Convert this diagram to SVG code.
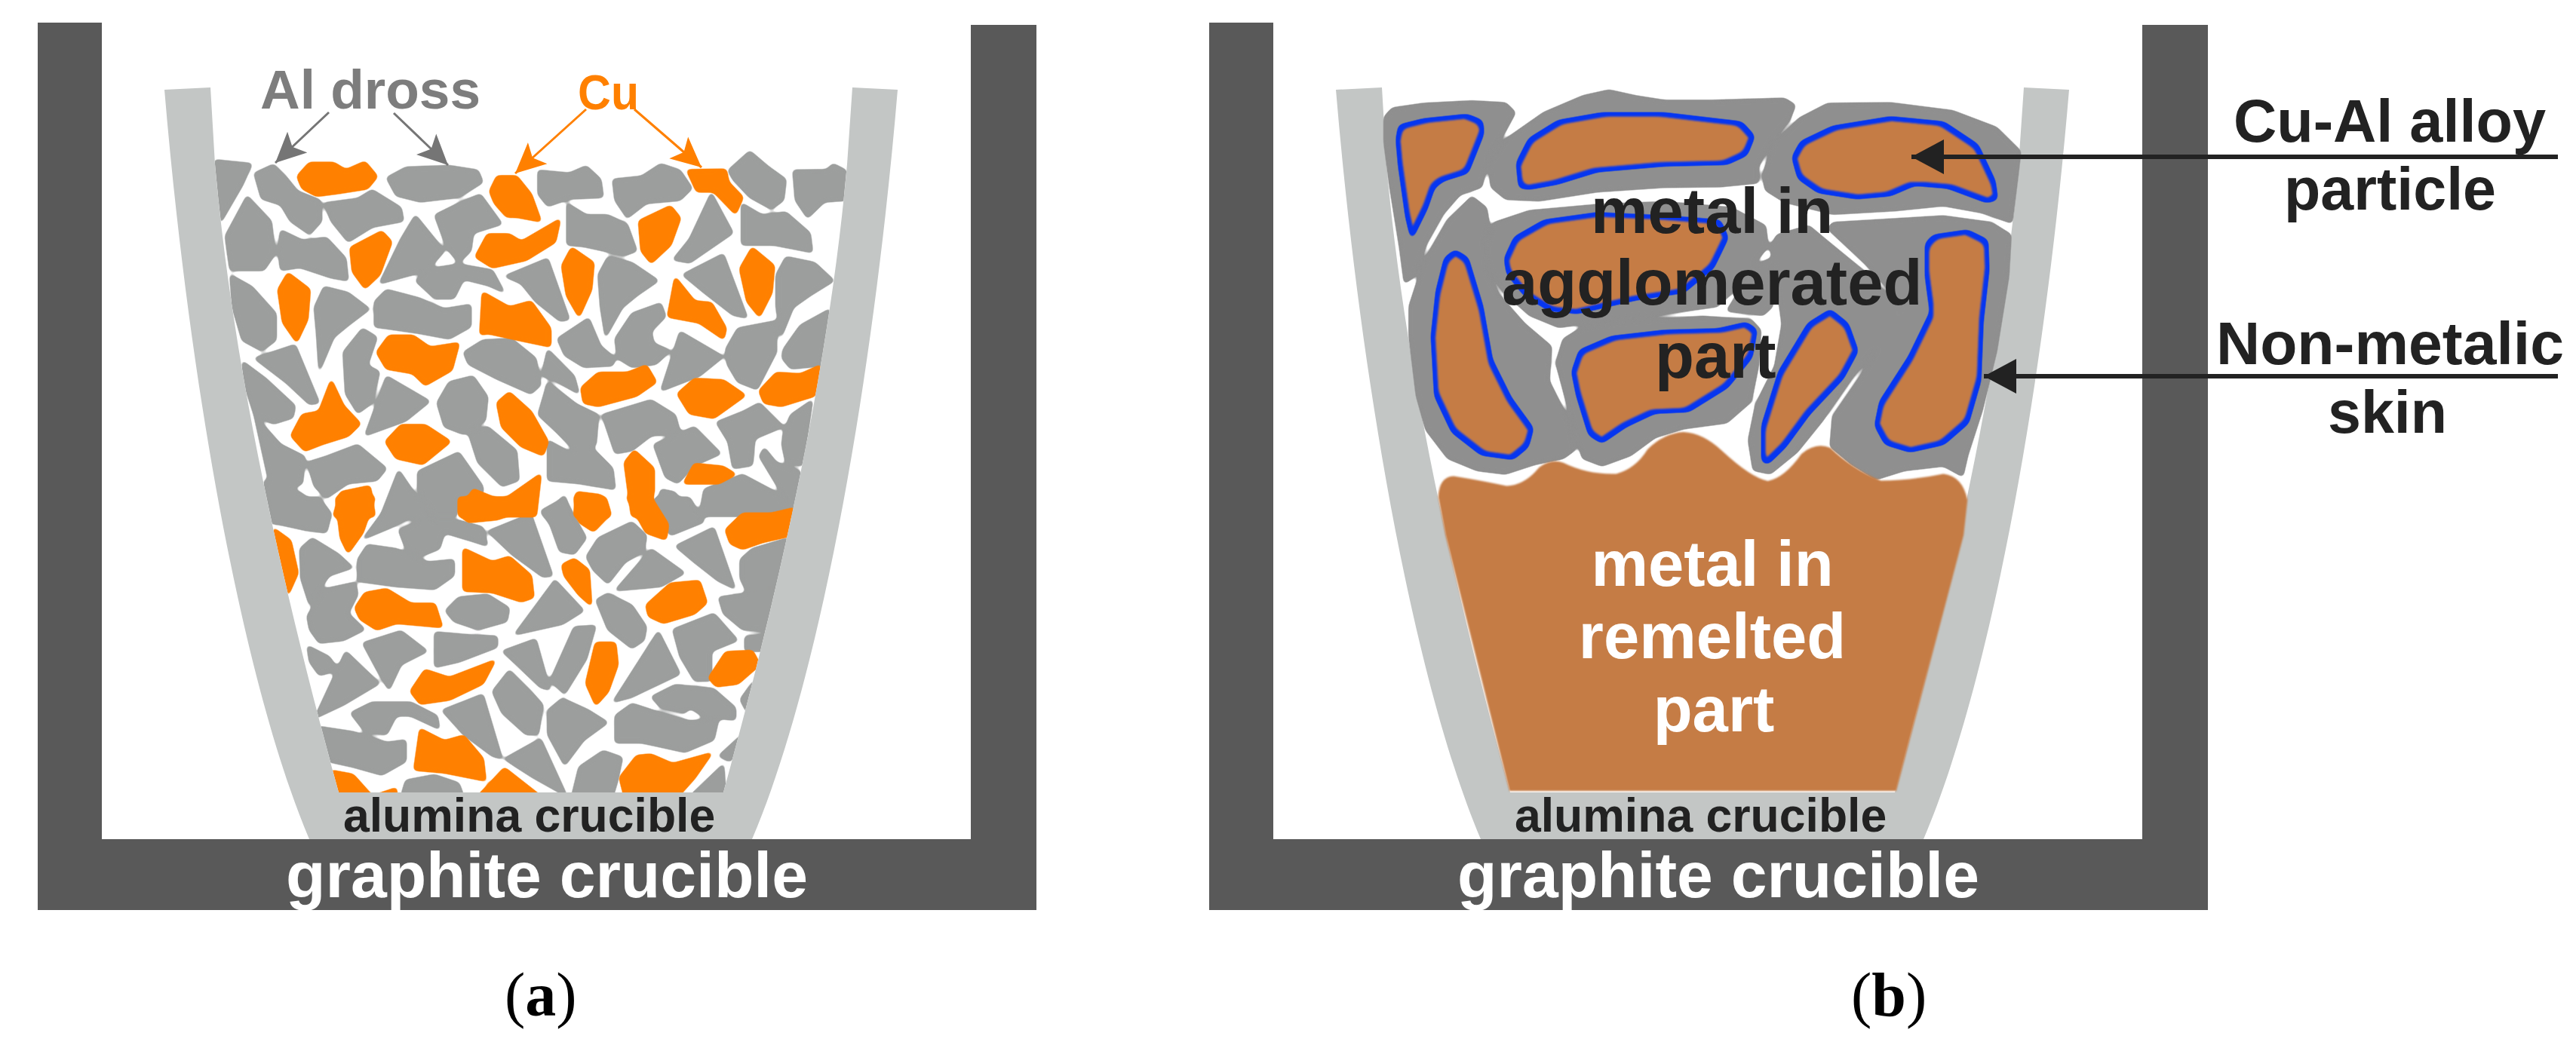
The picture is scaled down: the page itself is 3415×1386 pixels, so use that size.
<svg xmlns="http://www.w3.org/2000/svg" xmlns:xlink="http://www.w3.org/1999/xlink" width="3415" height="1386" viewBox="0 0 3415 1386">
<style>
text{font-family:"Liberation Sans",Arial,sans-serif;font-weight:700}
.cap{font-family:"Liberation Serif","Times New Roman",serif;font-weight:400;font-size:82px;fill:#000}
.cap tspan{font-weight:700}
.graphite{fill:#595959}
.alumina{fill:#c3c6c5}
.g polygon{fill:#9c9e9d;stroke:#9c9e9d;stroke-width:3;stroke-linejoin:round;vector-effect:non-scaling-stroke}
.o polygon{fill:#ff8000;stroke:#ff8000;stroke-width:4;stroke-linejoin:round;vector-effect:non-scaling-stroke}
.skin polygon{fill:#8f8f8f;stroke:#8f8f8f;stroke-width:3;stroke-linejoin:round;vector-effect:non-scaling-stroke}
.metal{fill:#c57c45}
.p{fill:#000;stroke:#000;stroke-width:5;vector-effect:non-scaling-stroke;stroke-linejoin:round}
.dk{fill:#222}
.wh{fill:#fff}
</style>
<defs>
<filter id="goo" x="-3%" y="-3%" width="106%" height="106%" color-interpolation-filters="sRGB"><feGaussianBlur stdDeviation="3.2"/><feComponentTransfer><feFuncA type="linear" slope="6" intercept="-2.6"/></feComponentTransfer></filter>
<filter id="part" x="-3%" y="-3%" width="106%" height="106%" color-interpolation-filters="sRGB">
<feGaussianBlur in="SourceAlpha" stdDeviation="4.5"/>
<feComponentTransfer result="s"><feFuncA type="linear" slope="7" intercept="-3"/></feComponentTransfer>
<feFlood flood-color="#0636f0"/><feComposite in2="s" operator="in" result="bl"/>
<feMorphology in="s" operator="erode" radius="5.5"/>
<feGaussianBlur stdDeviation=".8" result="i"/>
<feFlood flood-color="#c57c45"/><feComposite in2="i" operator="in" result="br"/>
<feMerge><feMergeNode in="bl"/><feMergeNode in="br"/></feMerge>
</filter>
<filter id="soft" x="-3%" y="-3%" width="106%" height="106%"><feGaussianBlur stdDeviation="1"/></filter>
<clipPath id="inner"><path d="M283 150L285 218C310 500 380 800 449 1051L959 1051C1028 800 1098 500 1123 218L1125 150Z"/></clipPath>
<path id="alu" d="M218 119C250 500 320 900 410 1113L997 1113C1088 900 1158 500 1190 119L1130 116L1123 218C1098 500 1028 800 959 1051L449 1051C380 800 310 500 285 218L279 116Z"/>
<path id="gra" d="M50 30H135V1113H1287V33H1374V1207H50Z"/>
<marker id="mg" markerUnits="userSpaceOnUse" markerWidth="42" markerHeight="40" refX="40" refY="20" orient="auto"><path d="M40 20L0 1L9 20L0 39Z" fill="#757575"/></marker>
<marker id="mo" markerUnits="userSpaceOnUse" markerWidth="42" markerHeight="40" refX="40" refY="20" orient="auto"><path d="M40 20L0 1L9 20L0 39Z" fill="#ff8000"/></marker>
<marker id="mk" markerUnits="userSpaceOnUse" markerWidth="44" markerHeight="46" refX="43" refY="23" orient="auto"><path d="M43 23L0 0V46Z" fill="#222"/></marker>
</defs>
<rect width="3415" height="1386" fill="#fff"/>

<g id="particles-a" clip-path="url(#inner)">
<g filter="url(#goo)"><g transform="translate(200,60) scale(.6378,.3953)" class="g">
<polygon points="133,385 210,398 190,470 145,595 133,500"/>
<polygon points="215,430 255,400 280,440 305,490 352,520 355,590 330,635 290,590 270,535 230,515"/>
<polygon points="490,445 530,410 620,405 680,420 690,460 640,510 560,525 510,505"/>
<polygon points="805,420 870,430 905,405 935,450 940,510 870,515 825,540 805,500"/>
<polygon points="960,450 1020,440 1060,398 1100,420 1125,480 1100,520 1030,530 990,580 965,520"/>
<polygon points="1200,420 1245,355 1285,410 1320,450 1315,520 1290,550 1245,510 1210,450"/>
<polygon points="1335,420 1405,418 1418,398 1445,420 1445,520 1400,525 1365,580 1340,520"/>
<polygon points="155,640 200,505 250,590 258,700 235,755 165,755 160,700"/>
<polygon points="360,530 430,515 460,485 520,545 525,590 460,610 410,660 375,590"/>
<polygon points="270,620 315,655 365,645 405,715 410,790 375,780 310,745 270,755 265,690"/>
<polygon points="475,800 520,650 550,570 610,690 575,755 520,780"/>
<polygon points="590,570 640,530 685,500 730,600 670,630 665,690 640,730 615,680"/>
<polygon points="550,790 580,750 640,735 710,755 735,830 700,805 650,785 630,850 590,850"/>
<polygon points="735,775 825,715 870,920 850,925 800,860 770,800"/>
<polygon points="865,530 905,570 950,570 990,600 1010,690 985,705 900,675 865,670"/>
<polygon points="1085,720 1120,650 1165,495 1210,630 1120,730"/>
<polygon points="1228,530 1270,570 1320,560 1370,630 1375,695 1295,670 1228,670"/>
<polygon points="930,770 950,710 1000,730 1055,790 1010,840 980,880 945,980 935,880"/>
<polygon points="1105,770 1190,700 1240,915 1210,905 1150,830"/>
<polygon points="1300,770 1320,710 1380,730 1420,790 1370,840 1335,880 1310,980 1300,880"/>
<polygon points="165,770 210,810 260,900 260,990 230,1025 190,990 170,880"/>
<polygon points="340,880 360,810 410,830 455,885 410,940 380,980 350,1095 345,970"/>
<polygon points="465,860 490,820 560,850 610,885 665,870 665,945 620,985 555,965 490,950 465,945"/>
<polygon points="845,985 910,915 935,1010 965,1050 960,1075 900,1080 860,1040"/>
<polygon points="965,985 1000,900 1060,865 1070,910 1040,960 1045,1000 1080,1025 1050,1070 1000,1080 970,1050"/>
<polygon points="650,1030 690,990 750,985 800,1050 810,1140 790,1170 720,1120 660,1070"/>
<polygon points="1060,1160 1100,960 1190,1045 1140,1110"/>
<polygon points="1195,1020 1220,950 1300,925 1300,1030 1260,1155 1220,1130 1198,1070"/>
<polygon points="1315,1020 1350,940 1412,885 1395,1075 1330,1085 1312,1050"/>
<polygon points="215,1050 300,1005 350,1200 330,1205 280,1130"/>
<polygon points="400,1030 440,950 470,980 450,1075 475,1095 460,1200 430,1235 405,1170"/>
<polygon points="190,1060 240,1120 300,1210 295,1250 255,1270 215,1240 195,1140"/>
<polygon points="815,1090 825,1020 880,1110 890,1170 840,1125 815,1110"/>
<polygon points="445,1310 490,1110 580,1195 530,1260"/>
<polygon points="595,1200 620,1130 670,1110 700,1180 695,1260 650,1305 610,1280"/>
<polygon points="805,1240 825,1130 885,1205 930,1240 925,1340 890,1375 845,1300"/>
<polygon points="938,1240 1040,1190 1090,1240 1100,1300 1040,1310 1000,1360 965,1370"/>
<polygon points="1175,1265 1230,1230 1265,1200 1315,1280 1255,1320 1250,1410 1210,1420 1200,1330"/>
<polygon points="1315,1300 1330,1240 1375,1190 1355,1410 1320,1400 1312,1340"/>
<polygon points="215,1240 270,1340 320,1380 315,1470 290,1490 245,1460"/>
<polygon points="325,1400 365,1380 430,1340 490,1420 470,1460 410,1470 365,1520 340,1480"/>
<polygon points="660,1300 700,1280 760,1360 765,1460 730,1480 680,1400"/>
<polygon points="825,1325 870,1365 920,1355 960,1420 965,1490 890,1470 825,1460"/>
<polygon points="1045,1340 1130,1280 1185,1370 1130,1410 1095,1470 1070,1450"/>
<polygon points="555,1430 640,1365 690,1480 690,1505 640,1520 635,1580 590,1580 555,1490"/>
<polygon points="475,1590 515,1425 585,1590"/>
<polygon points="235,1460 310,1500 375,1580 245,1580"/>
<polygon points="1050,1580 1060,1490 1090,1500 1115,1580"/>
<polygon points="1140,1580 1150,1490 1230,1440 1300,1500 1340,1580"/>
<polygon points="815,1580 860,1510 875,1580"/>
<polygon points="1265,1380 1275,1350 1300,1400 1350,1430 1340,1580"/>
</g>
<g transform="translate(200,660) scale(.6378,.3571)" class="g">
<polygon points="245,0 350,0 375,60 365,130 320,120 270,100 250,95"/>
<polygon points="440,155 500,10 575,0 555,60 500,110"/>
<polygon points="515,120 560,85 640,85 690,110 700,180 665,160 610,130 600,190 565,215 530,190"/>
<polygon points="700,125 790,60 835,290 815,295 750,210"/>
<polygon points="810,50 860,0 880,70 905,150 880,210 850,200 830,100"/>
<polygon points="1050,0 1120,0 1150,90 1080,140 1040,30"/>
<polygon points="905,220 930,150 1000,90 1030,140 1025,200 985,240 950,320 920,270"/>
<polygon points="965,345 1040,190 1110,280 1060,330"/>
<polygon points="1090,180 1170,110 1215,340 1180,310 1130,240"/>
<polygon points="1225,230 1250,190 1325,150 1310,320 1240,355 1225,300"/>
<polygon points="310,190 335,150 390,210 420,260 370,290 330,400 312,300"/>
<polygon points="430,230 450,175 510,190 575,240 630,230 630,290 590,340 510,330 430,310"/>
<polygon points="325,440 360,340 425,315 430,360 410,430 445,490 400,530 350,540 330,490"/>
<polygon points="612,420 640,370 700,360 745,410 740,460 680,490 630,460"/>
<polygon points="755,510 840,305 900,420 855,470"/>
<polygon points="925,380 950,355 1000,400 1030,480 1025,530 1000,560 950,490"/>
<polygon points="1180,370 1240,355 1305,330 1285,495 1230,490 1190,430"/>
<polygon points="1085,490 1170,430 1220,530 1165,570 1165,680 1130,680 1100,590"/>
<polygon points="1235,515 1285,510 1275,570 1235,570"/>
<polygon points="325,550 370,590 390,640 350,660 330,610"/>
<polygon points="440,540 520,495 575,570 520,620 495,715 470,640"/>
<polygon points="590,500 660,510 720,515 720,555 640,610 590,630"/>
<polygon points="340,820 405,570 475,690 400,770"/>
<polygon points="730,570 800,525 830,715 810,705 760,620"/>
<polygon points="830,680 880,480 925,475 905,600 860,730"/>
<polygon points="960,760 1055,495 1100,655 1000,740"/>
<polygon points="1225,750 1255,675 1240,800"/>
<polygon points="1040,740 1090,695 1170,710 1215,780 1215,825 1150,815 1120,780 1110,800 1060,780"/>
<polygon points="415,800 460,760 540,760 595,810 600,860 540,810 510,810 490,880 445,870"/>
<polygon points="605,790 690,730 730,970 710,960 650,880"/>
<polygon points="710,720 745,640 790,720 815,770 805,880 780,880 730,800"/>
<polygon points="825,790 855,745 910,790 950,835 900,900 860,995 825,880"/>
<polygon points="965,810 1000,765 1060,800 1120,830 1180,820 1170,900 1110,945 1020,910 965,910"/>
<polygon points="345,850 420,870 490,910 530,900 530,980 480,1030 420,1000 370,980"/>
<polygon points="735,970 810,895 865,1110 795,1040 760,1000"/>
<polygon points="875,1110 890,1000 940,940 980,965 970,1050 960,1110"/>
<polygon points="1120,1110 1190,990 1195,1110"/>
<polygon points="1180,960 1235,870 1205,980"/>
<polygon points="520,1110 530,1050 590,1030 640,1060 650,1110"/>
</g></g>
<g filter="url(#goo)"><g transform="translate(200,60) scale(.6378,.3953)" class="o">
<polygon points="305,440 330,395 380,395 405,420 445,392 470,440 450,480 390,495 345,505 315,480"/>
<polygon points="705,490 720,440 760,440 790,500 810,590 760,575 740,575 715,530"/>
<polygon points="1115,420 1195,418 1200,460 1230,510 1215,565 1170,490 1135,490"/>
<polygon points="415,680 480,625 500,660 475,770 445,815 420,760"/>
<polygon points="1015,590 1080,540 1100,580 1080,670 1040,730 1020,690"/>
<polygon points="675,710 700,635 745,635 770,660 850,585 840,660 780,720 710,745"/>
<polygon points="265,820 285,765 330,820 325,920 303,995 275,930"/>
<polygon points="855,740 875,680 920,730 915,820 890,910 865,840"/>
<polygon points="1225,750 1250,680 1295,740 1290,830 1265,910 1240,860"/>
<polygon points="685,970 690,830 745,880 790,860 830,950 830,1010 770,990 700,965"/>
<polygon points="1075,910 1090,780 1130,860 1165,865 1195,950 1190,985 1140,930"/>
<polygon points="470,1030 495,975 545,975 580,1015 640,1000 625,1090 570,1140 545,1100 490,1085"/>
<polygon points="895,1150 930,1100 990,1100 1030,1075 1050,1130 1010,1175 930,1210 900,1200"/>
<polygon points="1095,1170 1130,1120 1190,1125 1235,1175 1170,1250 1120,1235"/>
<polygon points="1265,1160 1300,1100 1350,1105 1392,1075 1380,1175 1310,1210 1275,1200"/>
<polygon points="720,1200 745,1165 790,1230 825,1330 815,1375 770,1345 730,1280"/>
<polygon points="292,1310 315,1240 350,1230 375,1125 400,1210 435,1270 410,1310 360,1335 320,1360"/>
<polygon points="488,1330 520,1275 570,1275 622,1330 565,1405 510,1385"/>
<polygon points="985,1400 1005,1360 1045,1420 1045,1500 1030,1580 1000,1580"/>
<polygon points="1108,1470 1130,1405 1190,1415 1215,1440 1180,1470"/>
<polygon points="380,1580 395,1500 455,1480 465,1580"/>
<polygon points="640,1580 670,1490 730,1530 810,1440 800,1580"/>
<polygon points="880,1580 885,1500 935,1510 955,1580"/>
</g>
<g transform="translate(200,660) scale(.6378,.3571)" class="o">
<polygon points="385,0 465,0 440,130 410,205 395,150"/>
<polygon points="640,0 800,0 780,40 720,80 660,90 640,60"/>
<polygon points="880,0 945,0 955,60 920,125 890,90"/>
<polygon points="990,0 1040,0 1075,100 1070,155 1030,130"/>
<polygon points="1195,120 1230,60 1290,60 1338,40 1330,140 1270,165 1230,190 1205,170"/>
<polygon points="255,115 290,160 305,280 285,360 270,250"/>
<polygon points="650,190 710,240 745,220 790,290 795,370 770,385 710,350 650,345"/>
<polygon points="855,250 880,228 910,270 915,400 890,360 860,290"/>
<polygon points="425,410 445,355 490,340 540,395 590,395 605,480 510,465 470,490 435,450"/>
<polygon points="1030,400 1080,320 1140,310 1155,390 1130,430 1065,465 1035,440"/>
<polygon points="540,720 570,640 620,670 715,605 690,690 620,750 560,765"/>
<polygon points="905,690 925,540 965,540 970,620 950,720 925,770"/>
<polygon points="1160,670 1195,575 1250,570 1265,620 1220,690 1175,700"/>
<polygon points="548,1010 560,860 610,905 650,885 690,970 695,1050 610,1020"/>
<polygon points="975,1040 1010,960 1040,955 1085,990 1165,950 1130,1040 1095,1110 985,1110"/>
<polygon points="375,1015 420,1030 460,1110 390,1110"/>
<polygon points="460,1110 510,1080 510,1110"/>
<polygon points="680,1110 735,1005 810,1110"/>
</g></g>
</g>

<g id="alumina-crucible-a"><use xlink:href="#alu" class="alumina"/></g>
<g id="graphite-crucible-a"><use xlink:href="#gra" class="graphite"/></g>

<g id="alumina-crucible-b"><use xlink:href="#alu" x="1553" class="alumina"/></g>
<g id="graphite-crucible-b"><use xlink:href="#gra" x="1553" class="graphite"/></g>

<g id="skins-b" filter="url(#goo)"><g transform="translate(1760,90) scale(.6378,.3953)" class="skin">
<polygon points="118,165 135,135 200,120 300,112 370,118 390,150 370,210 335,300 320,400 275,425 240,490 205,590 180,700 160,722 150,600 130,400 118,250"/>
<polygon points="335,320 370,240 450,150 530,95 585,75 640,95 700,110 800,110 950,103 972,125 960,175 925,240 895,330 895,385 815,398 700,400 560,415 440,445 370,440 340,400"/>
<polygon points="905,360 925,260 980,170 1040,120 1170,118 1300,145 1390,200 1440,280 1435,350 1422,520 1360,485 1280,462 1180,478 1050,490 950,450 910,410"/>
<polygon points="300,432 330,470 335,520 325,590 330,680 355,760 410,860 465,935 460,1050 500,1180 515,1280 490,1310 430,1330 370,1362 310,1350 250,1310 205,1215 185,1100 170,900 170,800 200,650 250,510"/>
<polygon points="330,600 345,520 420,480 560,460 700,450 840,470 910,530 915,600 880,670 850,740 810,800 700,825 590,845 480,870 420,830 365,750 335,670"/>
<polygon points="475,990 490,910 530,870 620,850 780,835 880,845 900,880 895,1000 880,1120 830,1190 740,1210 680,1240 630,1300 570,1335 530,1310 510,1200"/>
<polygon points="935,560 1000,530 1030,570 1120,690 1180,790 1190,810 1150,920 1090,1040 1030,1180 975,1290 920,1362 885,1350 875,1250 890,1130 930,1000 945,860 930,680 920,600"/>
<polygon points="880,670 920,640 925,800 905,830 830,815 860,740"/>
<polygon points="1050,520 1280,498 1380,520 1420,560 1415,700 1390,950 1360,1150 1330,1300 1320,1370 1280,1335 1200,1350 1140,1380 1090,1330 1045,1270 1050,1170 1110,1030 1195,810 1160,730 1120,660 1040,540"/>
</g></g>

<g id="remelted-metal" filter="url(#soft)"><g transform="translate(1760,90) scale(.6378,.3953)">
<path class="metal" d="M230 1440Q232 1372 262 1370Q320 1385 372 1403Q410 1400 440 1340Q465 1310 490 1325Q540 1365 600 1362Q640 1345 665 1280Q700 1225 740 1222Q780 1225 820 1285Q880 1375 915 1386Q950 1375 985 1295Q1015 1255 1045 1275Q1090 1345 1150 1385Q1210 1385 1280 1362Q1320 1370 1330 1450L1322 1568L1182 2426L378 2426L245 1568Z"/>
</g></g>

<g id="particles-b" filter="url(#part)"><g transform="translate(1760,90) scale(.6378,.3953)">
<polygon class="p" points="150,195 200,175 290,160 320,180 322,220 305,290 290,350 240,375 220,400 205,470 175,568 165,500 150,330 145,240"/>
<polygon class="p" points="400,400 395,320 420,240 480,180 570,155 700,155 860,185 885,230 870,290 830,320 700,325 560,345 480,385 420,403"/>
<polygon class="p" points="968,300 985,250 1050,200 1170,168 1280,185 1350,260 1385,380 1390,440 1370,448 1290,400 1220,390 1170,425 1100,435 1020,415 980,370"/>
<polygon class="p" points="370,640 390,570 450,515 560,490 700,500 815,515 830,570 800,670 740,750 640,775 520,820 460,810 410,760 375,690"/>
<polygon class="p" points="265,615 290,640 320,800 340,980 380,1110 425,1210 415,1270 385,1310 320,1295 260,1220 225,1100 218,900 228,750 245,640"/>
<polygon class="p" points="510,1020 525,950 590,905 700,885 810,880 870,858 890,880 880,970 830,1070 750,1150 680,1155 620,1200 570,1255 545,1230 520,1100"/>
<polygon class="p" points="905,1320 905,1200 940,1020 1000,860 1045,815 1080,860 1100,950 1070,1040 1000,1160 950,1270 915,1325"/>
<polygon class="p" points="1245,590 1260,565 1330,548 1370,580 1372,680 1360,850 1355,1050 1330,1190 1280,1260 1210,1285 1160,1260 1140,1200 1150,1120 1210,970 1255,820 1245,700"/>
</g></g>

<g id="connectors">
<line x1="436" y1="149" x2="365" y2="216" stroke="#757575" stroke-width="3" marker-end="url(#mg)"/>
<line x1="522" y1="150" x2="594" y2="219" stroke="#757575" stroke-width="3" marker-end="url(#mg)"/>
<line x1="777" y1="145" x2="683" y2="230" stroke="#ff8000" stroke-width="3" marker-end="url(#mo)"/>
<line x1="841" y1="145" x2="930" y2="222" stroke="#ff8000" stroke-width="3" marker-end="url(#mo)"/>
<line x1="3391" y1="208" x2="2534" y2="208" stroke="#222" stroke-width="6" marker-end="url(#mk)"/>
<line x1="3391" y1="499" x2="2630" y2="499" stroke="#222" stroke-width="6" marker-end="url(#mk)"/>
</g>

<g id="labels-a">
<text x="345" y="144" font-size="72" fill="#7d7d7d" textLength="292" lengthAdjust="spacingAndGlyphs">Al dross</text>
<text x="766" y="145" font-size="64" fill="#ff8000" textLength="81" lengthAdjust="spacingAndGlyphs">Cu</text>
<text x="455" y="1103" font-size="62.5" class="dk">alumina crucible</text>
<text x="379" y="1190" font-size="85" class="wh" textLength="692" lengthAdjust="spacingAndGlyphs">graphite crucible</text>
<text x="669" y="1347" class="cap">(<tspan>a</tspan>)</text>
</g>
<g id="labels-b">
<text x="2008" y="1103" font-size="62.5" class="dk">alumina crucible</text>
<text x="1932" y="1190" font-size="85" class="wh" textLength="692" lengthAdjust="spacingAndGlyphs">graphite crucible</text>
<text x="2109" y="309" font-size="85" class="dk">metal in</text>
<text x="1991" y="404" font-size="85" class="dk">agglomerated</text>
<text x="2194" y="501" font-size="85" class="dk">part</text>
<text x="2270" y="777" font-size="85" class="wh" text-anchor="middle">metal in</text>
<text x="2270" y="873" font-size="85" class="wh" text-anchor="middle">remelted</text>
<text x="2272" y="970" font-size="85" class="wh" text-anchor="middle">part</text>
<text x="2961" y="188" font-size="80" class="dk" textLength="414" lengthAdjust="spacingAndGlyphs">Cu-Al alloy</text>
<text x="3028" y="278" font-size="79" class="dk">particle</text>
<text x="2938" y="483" font-size="80" class="dk" textLength="461" lengthAdjust="spacingAndGlyphs">Non-metalic</text>
<text x="3086" y="574" font-size="79" class="dk">skin</text>
<text x="2454" y="1347" class="cap">(<tspan>b</tspan>)</text>
</g>
</svg>
